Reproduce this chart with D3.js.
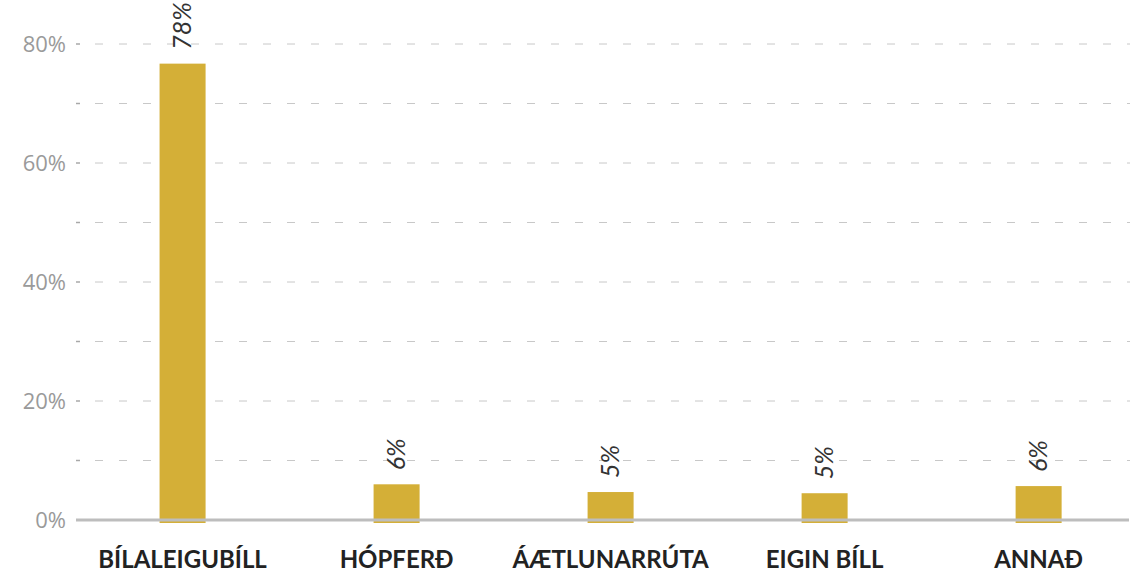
<!DOCTYPE html>
<html>
<head>
<meta charset="utf-8">
<script src="https://cdn.jsdelivr.net/npm/d3@7"></script>
<style>
  body { margin: 0; background: #fff; }
  svg { display: block; }
</style>
</head>
<body>
<div id="chart"></div>
<script>
// data
var categories = ["BÍLALEIGUBÍLL", "HÓPFERÐ", "ÁÆTLUNARRÚTA", "EIGIN BÍLL", "ANNAÐ"];
var values = [76.7, 6.0, 4.7, 4.5, 5.7];
var valueLabels = ["78%", "6%", "5%", "5%", "6%"];
var yTicks = [0, 20, 40, 60, 80];
var yGrid = [10, 20, 30, 40, 50, 60, 70, 80];

var svgWidth = 1137;
var svgHeight = 574;

var margin = { top: 44, right: 7, bottom: 54, left: 76 };
var width = svgWidth - margin.left - margin.right;
var height = svgHeight - margin.top - margin.bottom;

var svg = d3.select("#chart")
    .append("svg")
    .attr("width", svgWidth)
    .attr("height", svgHeight);

var chartGroup = svg.append("g")
    .attr("transform", `translate(${margin.left}, ${margin.top})`);

var xScale = d3.scaleBand()
    .domain(categories)
    .range([0, width])
    .paddingInner(0.785)
    .paddingOuter(0.355)
    .align(0.55);

var yScale = d3.scaleLinear()
    .domain([0, 80])
    .range([height, 0]);

// dashed gridlines
chartGroup.append("g")
    .selectAll("line")
    .data(yGrid)
    .enter()
    .append("line")
    .attr("x1", 4)
    .attr("x2", width)
    .attr("y1", d => yScale(d))
    .attr("y2", d => yScale(d))
    .attr("stroke", "#c8c8c8")
    .attr("stroke-width", 1)
    .attr("stroke-dasharray", "8 16")
    .attr("stroke-dashoffset", 9);

// small tick marks at left
chartGroup.append("g")
    .selectAll("line")
    .data(yGrid)
    .enter()
    .append("line")
    .attr("x1", 0)
    .attr("x2", 4)
    .attr("y1", d => yScale(d))
    .attr("y2", d => yScale(d))
    .attr("stroke", "#a8a8a8")
    .attr("stroke-width", 1.5);

// y labels
chartGroup.append("g")
    .selectAll("text")
    .data(yTicks)
    .enter()
    .append("text")
    .attr("x", -10)
    .attr("y", d => yScale(d))
    .attr("dy", "0.36em")
    .attr("text-anchor", "end")
    .style("font-family", "'Open Sans', sans-serif")
    .style("font-size", "22px")
    .style("font-weight", 400)
    .attr("fill", "#9a9a9a")
    .text(d => d + "%");

// bars
chartGroup.append("g")
    .selectAll("rect")
    .data(values)
    .enter()
    .append("rect")
    .attr("x", (d, i) => xScale(categories[i]))
    .attr("width", xScale.bandwidth())
    .attr("y", d => yScale(d))
    .attr("height", d => yScale(0) - yScale(d) + 3)
    .attr("fill", "#d4af37");

// baseline
chartGroup.append("line")
    .attr("x1", 0)
    .attr("x2", width - 1)
    .attr("y1", yScale(0))
    .attr("y2", yScale(0))
    .attr("stroke", "#bdbdbd")
    .attr("stroke-width", 3);

// value labels, rotated
chartGroup.append("g")
    .selectAll("text")
    .data(values)
    .enter()
    .append("text")
    .attr("transform", (d, i) => {
        var x = xScale(categories[i]) + xScale.bandwidth() / 2;
        var y = yScale(d) - 14;
        return `translate(${x}, ${y}) rotate(-90)`;
    })
    .attr("dy", "0.35em")
    .attr("text-anchor", "start")
    .style("font-family", "Lato, sans-serif")
    .style("font-size", "25px")
    .style("font-style", "italic")
    .attr("fill", "#333")
    .text((d, i) => valueLabels[i]);

// category labels
chartGroup.append("g")
    .selectAll("text")
    .data(categories)
    .enter()
    .append("text")
    .attr("x", d => xScale(d) + xScale.bandwidth() / 2)
    .attr("y", height + 48)
    .attr("text-anchor", "middle")
    .style("font-family", "Lato, sans-serif")
    .style("font-size", "24px")
    .style("font-weight", 700)
    .attr("fill", "#222")
    .text(d => d);
</script>
</body>
</html>
